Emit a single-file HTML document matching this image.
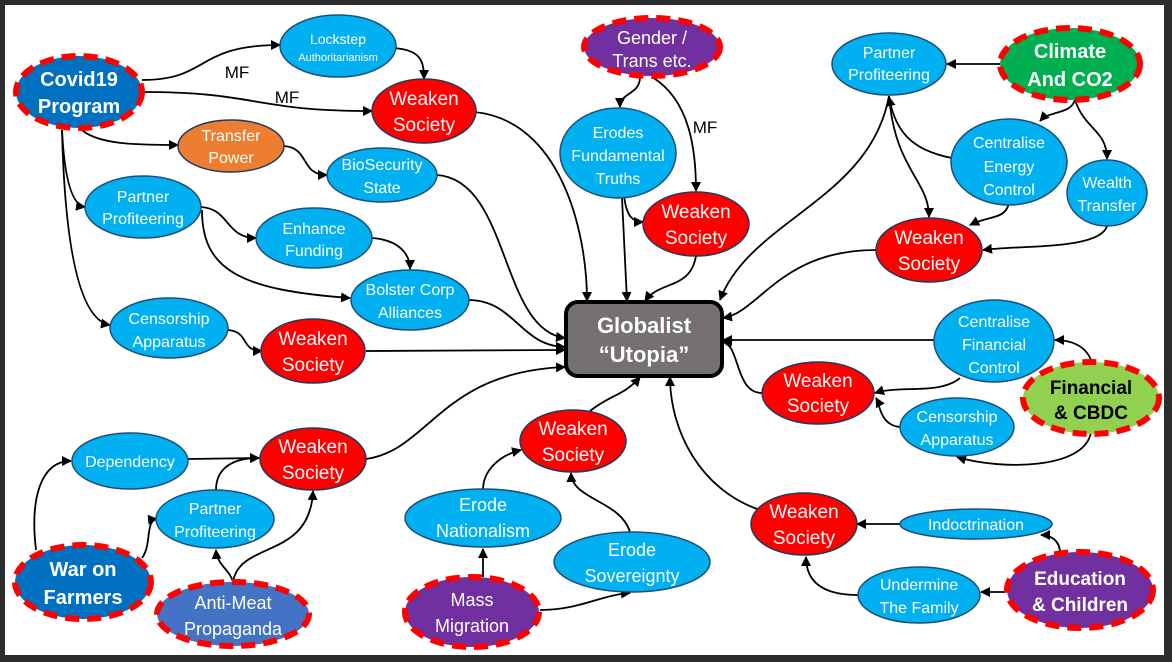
<!DOCTYPE html>
<html><head><meta charset="utf-8"><style>
html,body{margin:0;padding:0;background:#2d2d2d;}
svg{display:block;}
text{font-family:"Liberation Sans",sans-serif;fill:#fff;text-anchor:middle;}
.lb{fill:#00b0f0;stroke:#1f4e79;stroke-width:1.5;}
.rd{fill:#ff0000;stroke:#1f3b5a;stroke-width:1.5;}
.root{stroke:#ff0000;stroke-width:6;stroke-dasharray:14 8;}
.e{fill:none;stroke:#000;stroke-width:1.8;marker-end:url(#a);}
.n{fill:none;stroke:#000;stroke-width:1.8;}
.s{font-size:16px;}
.w{font-size:19px;}
.b{font-size:20px;font-weight:bold;}
</style></head><body>
<svg width="1172" height="662" viewBox="0 0 1172 662">
<defs><marker id="a" markerWidth="10" markerHeight="10" refX="9" refY="5" orient="auto" markerUnits="userSpaceOnUse"><path d="M0,0 L10,5 L0,10 z" fill="#000"/></marker></defs>
<rect x="0" y="0" width="1172" height="662" fill="#2d2d2d"/>
<rect x="5" y="5" width="1159" height="650" fill="#fff"/>

<!-- edges -->
<path class="e" d="M142,80 C210,80 195,45 280,45"/>
<path class="e" d="M142,92 C260,92 250,111 372,111"/>
<path class="e" d="M394,48 C420,50 424,60 424,79"/>
<path class="e" d="M80,128 C95,145 140,145 178,145"/>
<path class="e" d="M284,146 C310,148 300,175 327,175"/>
<path class="e" d="M62,130 C64,170 70,205 85,207"/>
<path class="e" d="M62,130 C65,250 80,320 110,325"/>
<path class="e" d="M200,207 C230,208 225,238 256,238"/>
<path class="e" d="M202,210 C202,270 240,290 350,298"/>
<path class="e" d="M372,238 C400,240 410,255 410,269"/>
<path class="e" d="M228,330 C250,332 240,351 262,351"/>
<path class="e" d="M474,112 C560,120 587,230 587,301"/>
<path class="e" d="M437,175 C510,180 500,330 565,338"/>
<path class="e" d="M468,300 C515,300 520,346 565,347"/>
<path class="e" d="M366,351 L565,350"/>
<path class="e" d="M366,459 C430,450 440,372 565,367"/>
<path class="e" d="M640,77 C640,95 620,92 620,107"/>
<path class="e" d="M652,77 C690,100 696,150 696,191"/>
<path class="e" d="M622,198 L627,301"/>
<path class="e" d="M624,195 C626,215 632,222 643,222"/>
<path class="e" d="M696,256 C690,290 660,280 645,301"/>
<path class="e" d="M1000,64 L947,64"/>
<path class="e" d="M1075,100 C1070,115 1050,110 1040,121"/>
<path class="e" d="M1075,100 C1085,130 1107,130 1107,159"/>
<path class="e" d="M952,158 C910,150 895,130 889,97"/>
<path class="e" d="M889,96 C870,200 750,220 720,300"/>
<path class="e" d="M889,96 C895,170 929,180 929,217"/>
<path class="e" d="M1009,203 C1005,220 990,215 970,225"/>
<path class="e" d="M1107,226 C1100,250 1020,245 983,250"/>
<path class="e" d="M876,250 C780,250 760,312 723,318"/>
<path class="e" d="M1091,360 C1085,345 1070,340 1055,340"/>
<path class="e" d="M934,340 L723,340"/>
<path class="e" d="M960,378 C940,395 900,385 875,393"/>
<path class="e" d="M762,393 C735,393 740,345 723,342"/>
<path class="e" d="M900,427 C880,425 880,405 876,398"/>
<path class="e" d="M1091,432 C1085,470 1000,470 957,457"/>
<path class="e" d="M760,510 C700,490 670,430 670,377"/>
<path class="e" d="M900,524 L857,524"/>
<path class="e" d="M1060,553 C1060,540 1050,535 1041,535"/>
<path class="e" d="M1006,592 L981,592"/>
<path class="e" d="M858,595 C820,595 806,580 806,557"/>
<path class="e" d="M590,411 C610,395 625,395 640,377"/>
<path class="e" d="M483,490 C483,470 500,455 521,450"/>
<path class="e" d="M630,532 C620,500 572,500 571,473"/>
<path class="e" d="M483,577 L483,549"/>
<path class="e" d="M540,610 C580,610 600,595 630,593"/>
<path class="e" d="M36,550 C30,500 40,461 71,461"/>
<path class="e" d="M142,558 C152,545 145,520 157,519"/>
<path class="e" d="M188,459 L259,458"/>
<path class="e" d="M216,490 C216,470 230,458 259,458"/>
<path class="e" d="M233,582 C230,570 217,565 216,550"/>
<path class="e" d="M233,582 C240,540 310,560 313,491"/>

<!-- nodes -->
<rect x="566" y="302" width="156" height="74" rx="12" fill="#767171" stroke="#000" stroke-width="4"/>
<text x="644" y="333" class="b" style="font-size:22px">Globalist</text>
<text x="644" y="362" class="b" style="font-size:22px">“Utopia”</text>

<ellipse cx="79" cy="92" rx="63" ry="36" fill="#0070c0" class="root"/>
<text x="79" y="86" class="b">Covid19</text><text x="79" y="113" class="b">Program</text>
<ellipse cx="338" cy="46" rx="58" ry="31" class="lb"/>
<text x="338" y="44" class="s" style="font-size:14px">Lockstep</text><text x="338" y="61" style="font-size:11px">Authoritarianism</text>
<ellipse cx="424" cy="111" rx="52" ry="32" class="rd"/>
<text x="424" y="105" class="w">Weaken</text><text x="424" y="131" class="w">Society</text>
<ellipse cx="231" cy="146" rx="53" ry="26" fill="#ed7d31" stroke="#1f3b5a" stroke-width="1.5"/>
<text x="231" y="141" class="s">Transfer</text><text x="231" y="163" class="s">Power</text>
<ellipse cx="382" cy="175" rx="55" ry="27" class="lb"/>
<text x="382" y="170" class="s">BioSecurity</text><text x="382" y="193" class="s">State</text>
<ellipse cx="143" cy="207" rx="58" ry="31" class="lb"/>
<text x="143" y="202" class="s">Partner</text><text x="143" y="224" class="s">Profiteering</text>
<ellipse cx="314" cy="238" rx="58" ry="30" class="lb"/>
<text x="314" y="234" class="s">Enhance</text><text x="314" y="256" class="s">Funding</text>
<ellipse cx="410" cy="300" rx="59" ry="30" class="lb"/>
<text x="410" y="295" class="s">Bolster Corp</text><text x="410" y="318" class="s">Alliances</text>
<ellipse cx="169" cy="328" rx="59" ry="30" class="lb"/>
<text x="169" y="324" class="s">Censorship</text><text x="169" y="347" class="s">Apparatus</text>
<ellipse cx="313" cy="351" rx="52" ry="32" class="rd"/>
<text x="313" y="345" class="w">Weaken</text><text x="313" y="371" class="w">Society</text>

<ellipse cx="652" cy="47" rx="68" ry="29" fill="#7030a0" class="root"/>
<text x="652" y="44" class="s" style="font-size:18px">Gender /</text><text x="652" y="67" class="s" style="font-size:18px">Trans etc.</text>
<ellipse cx="618" cy="153" rx="58" ry="45" class="lb"/>
<text x="618" y="138" class="s">Erodes</text><text x="618" y="161" class="s">Fundamental</text><text x="618" y="184" class="s">Truths</text>
<ellipse cx="696" cy="224" rx="53" ry="32" class="rd"/>
<text x="696" y="218" class="w">Weaken</text><text x="696" y="244" class="w">Society</text>

<ellipse cx="889" cy="64" rx="57" ry="31" class="lb"/>
<text x="889" y="58" class="s">Partner</text><text x="889" y="80" class="s">Profiteering</text>
<ellipse cx="1070" cy="64" rx="70" ry="36" fill="#00b050" class="root"/>
<text x="1070" y="58" class="b">Climate</text><text x="1070" y="86" class="b">And CO2</text>
<ellipse cx="1009" cy="162" rx="58" ry="43" class="lb"/>
<text x="1009" y="148" class="s">Centralise</text><text x="1009" y="172" class="s">Energy</text><text x="1009" y="195" class="s">Control</text>
<ellipse cx="1107" cy="193" rx="40" ry="33" class="lb"/>
<text x="1107" y="188" class="s">Wealth</text><text x="1107" y="211" class="s">Transfer</text>
<ellipse cx="929" cy="250" rx="53" ry="32" class="rd"/>
<text x="929" y="244" class="w">Weaken</text><text x="929" y="270" class="w">Society</text>

<ellipse cx="994" cy="341" rx="60" ry="41" class="lb"/>
<text x="994" y="327" class="s">Centralise</text><text x="994" y="350" class="s">Financial</text><text x="994" y="373" class="s">Control</text>
<ellipse cx="1091" cy="398" rx="68" ry="36" fill="#92d050" class="root"/>
<text x="1091" y="394" class="b" style="fill:#000;font-size:19px">Financial</text><text x="1091" y="419" class="b" style="fill:#000;font-size:19px">&amp; CBDC</text>
<ellipse cx="818" cy="393" rx="56" ry="31" class="rd"/>
<text x="818" y="387" class="w">Weaken</text><text x="818" y="412" class="w">Society</text>
<ellipse cx="957" cy="427" rx="57" ry="29" class="lb"/>
<text x="957" y="422" class="s">Censorship</text><text x="957" y="445" class="s">Apparatus</text>

<ellipse cx="804" cy="524" rx="53" ry="31" class="rd"/>
<text x="804" y="518" class="w">Weaken</text><text x="804" y="544" class="w">Society</text>
<ellipse cx="976" cy="524" rx="76" ry="15" class="lb"/>
<text x="976" y="530" class="s">Indoctrination</text>
<ellipse cx="919" cy="595" rx="61" ry="28" class="lb"/>
<text x="919" y="590" class="s">Undermine</text><text x="919" y="613" class="s">The Family</text>
<ellipse cx="1080" cy="590" rx="73" ry="38" fill="#7030a0" class="root"/>
<text x="1080" y="585" class="b" style="font-size:19px">Education</text><text x="1080" y="611" class="b" style="font-size:19px">&amp; Children</text>

<ellipse cx="573" cy="441" rx="53" ry="31" class="rd"/>
<text x="573" y="435" class="w">Weaken</text><text x="573" y="461" class="w">Society</text>
<ellipse cx="483" cy="518" rx="78" ry="29" class="lb"/>
<text x="483" y="511" class="w" style="font-size:18px">Erode</text><text x="483" y="537" class="w" style="font-size:18px">Nationalism</text>
<ellipse cx="632" cy="562" rx="78" ry="30" class="lb"/>
<text x="632" y="556" class="w" style="font-size:18px">Erode</text><text x="632" y="582" class="w" style="font-size:18px">Sovereignty</text>
<ellipse cx="472" cy="612" rx="67" ry="35" fill="#7030a0" class="root"/>
<text x="472" y="606" class="w" style="font-size:18px">Mass</text><text x="472" y="632" class="w" style="font-size:18px">Migration</text>

<ellipse cx="313" cy="459" rx="53" ry="31" class="rd"/>
<text x="313" y="453" class="w">Weaken</text><text x="313" y="479" class="w">Society</text>
<ellipse cx="130" cy="461" rx="58" ry="28" class="lb"/>
<text x="130" y="467" class="s">Dependency</text>
<ellipse cx="215" cy="519" rx="59" ry="29" class="lb"/>
<text x="215" y="514" class="s">Partner</text><text x="215" y="537" class="s">Profiteering</text>
<ellipse cx="83" cy="582" rx="68" ry="37" fill="#0070c0" class="root"/>
<text x="83" y="576" class="b">War on</text><text x="83" y="604" class="b">Farmers</text>
<ellipse cx="233" cy="614" rx="76" ry="32" fill="#4472c4" class="root"/>
<text x="233" y="609" class="w" style="font-size:18px">Anti-Meat</text><text x="233" y="635" class="w" style="font-size:18px">Propaganda</text>

<text x="237" y="78" style="fill:#000;font-size:17px">MF</text>
<text x="287" y="103" style="fill:#000;font-size:17px">MF</text>
<text x="705" y="133" style="fill:#000;font-size:17px">MF</text>
</svg>
</body></html>
